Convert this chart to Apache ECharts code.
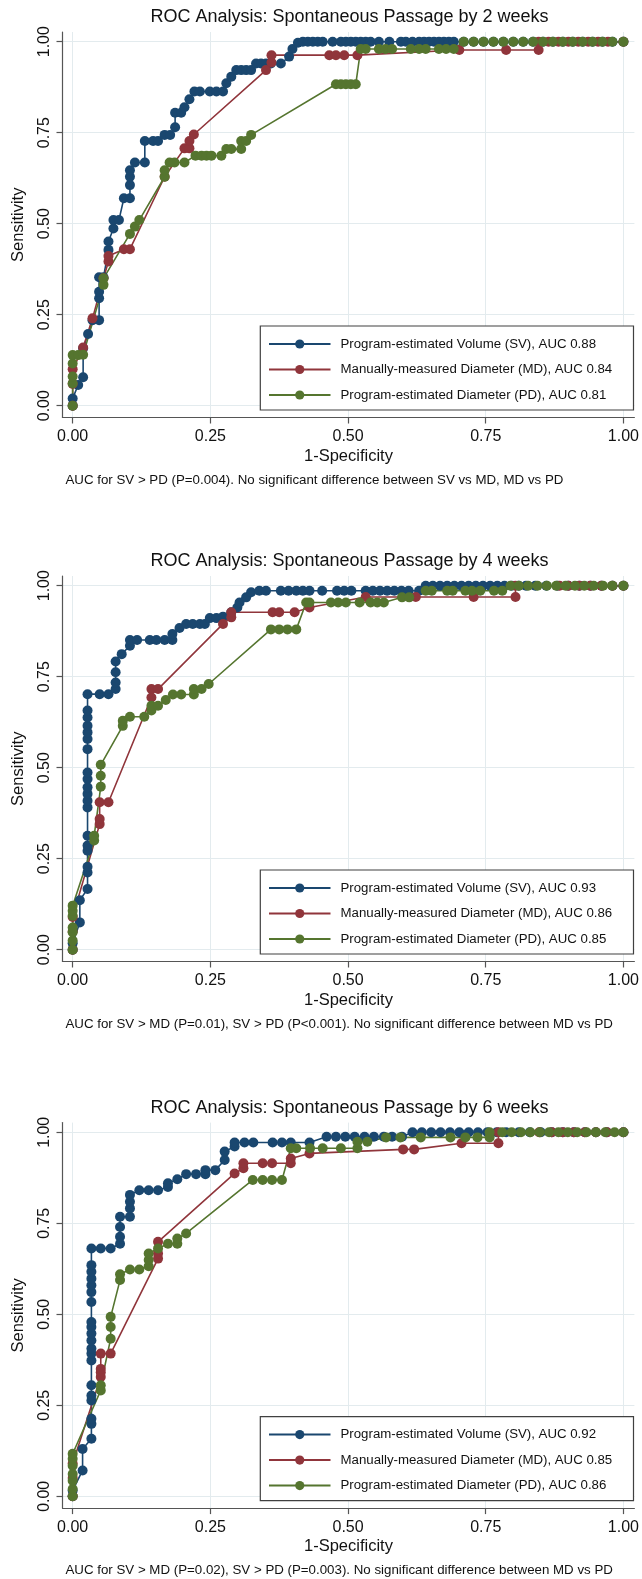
<!DOCTYPE html>
<html><head><meta charset="utf-8">
<script src="https://cdn.jsdelivr.net/npm/echarts@6/dist/echarts.min.js"></script>
<style>html,body{margin:0;padding:0;background:#fff}#c{width:642px;height:1579px}</style>
</head><body><div id="c"></div>
<script>
// ---------- text ----------
const titles = [
  'ROC Analysis: Spontaneous Passage by 2 weeks',
  'ROC Analysis: Spontaneous Passage by 4 weeks',
  'ROC Analysis: Spontaneous Passage by 6 weeks'
];
const notes = [
  'AUC for SV > PD (P=0.004). No significant difference between SV vs MD, MD vs PD',
  'AUC for SV > MD (P=0.01), SV > PD (P<0.001). No significant difference between MD vs PD',
  'AUC for SV > MD (P=0.02), SV > PD (P=0.003). No significant difference between MD vs PD'
];
const names2w = ['Program-estimated Volume (SV), AUC 0.88','Manually-measured Diameter (MD), AUC 0.84','Program-estimated Diameter (PD), AUC 0.81'];
const names4w = ['Program-estimated Volume (SV), AUC 0.93','Manually-measured Diameter (MD), AUC 0.86','Program-estimated Diameter (PD), AUC 0.85'];
const names6w = ['Program-estimated Volume (SV), AUC 0.92','Manually-measured Diameter (MD), AUC 0.85','Program-estimated Diameter (PD), AUC 0.86'];
const xAxisName = '1-Specificity';
const yAxisName = 'Sensitivity';
const tickValues = [0, 0.25, 0.5, 0.75, 1];
const tickLabels = ['0.00', '0.25', '0.50', '0.75', '1.00'];

// ---------- data: [1-specificity, sensitivity] ----------
const sv2 = [[0,0],[0,0.020],[0.010,0.057],[0.019,0.078],[0.019,0.158],[0.028,0.197],[0.036,0.235],[0.048,0.235],[0.048,0.295],[0.048,0.313],[0.048,0.353],[0.056,0.353],[0.065,0.428],[0.065,0.451],[0.074,0.487],[0.074,0.510],[0.084,0.510],[0.093,0.570],[0.104,0.570],[0.104,0.606],[0.104,0.629],[0.104,0.647],[0.113,0.668],[0.131,0.668],[0.131,0.727],[0.146,0.727],[0.155,0.727],[0.167,0.744],[0.177,0.744],[0.186,0.765],[0.186,0.805],[0.197,0.805],[0.203,0.820],[0.212,0.842],[0.221,0.863],[0.231,0.863],[0.249,0.863],[0.261,0.863],[0.273,0.863],[0.279,0.886],[0.288,0.904],[0.297,0.922],[0.306,0.922],[0.315,0.922],[0.324,0.922],[0.333,0.940],[0.342,0.940],[0.351,0.940],[0.360,0.940],[0.378,0.940],[0.393,0.959],[0.399,0.980],[0.409,0.997],[0.418,1],[0.427,1],[0.436,1],[0.445,1],[0.454,1],[0.472,1],[0.487,1],[0.496,1],[0.505,1],[0.514,1],[0.523,1],[0.532,1],[0.541,1],[0.556,1],[0.575,1],[0.596,1],[0.605,1],[0.617,1],[0.629,1],[0.638,1],[0.647,1],[0.656,1],[0.665,1],[0.674,1],[0.683,1],[0.692,1],[0.710,1],[0.728,1],[0.746,1],[0.764,1],[0.782,1],[0.800,1],[0.818,1],[0.836,1],[0.854,1],[0.872,1],[0.890,1],[0.908,1],[0.926,1],[0.944,1],[0.962,1],[0.980,1],[1,1]];
const md2 = [[0,0],[0,0.060],[0,0.100],[0.019,0.160],[0.036,0.240],[0.056,0.350],[0.065,0.396],[0.065,0.411],[0.093,0.430],[0.104,0.430],[0.167,0.629],[0.203,0.707],[0.212,0.707],[0.212,0.727],[0.220,0.745],[0.351,0.922],[0.361,0.943],[0.361,0.963],[0.466,0.963],[0.478,0.963],[0.493,0.963],[0.517,0.963],[0.702,0.977],[0.787,0.977],[0.846,0.977],[0.846,1],[0.864,1],[0.882,1],[0.900,1],[0.918,1],[0.936,1],[0.954,1],[0.972,1],[1,1]];
const pd2 = [[0,0],[0,0.061],[0,0.080],[0,0.116],[0,0.139],[0.010,0.139],[0.019,0.140],[0.056,0.332],[0.056,0.350],[0.104,0.472],[0.113,0.492],[0.121,0.510],[0.167,0.629],[0.167,0.647],[0.176,0.668],[0.185,0.668],[0.203,0.668],[0.223,0.687],[0.234,0.687],[0.243,0.687],[0.252,0.687],[0.270,0.687],[0.279,0.705],[0.288,0.705],[0.306,0.705],[0.306,0.727],[0.315,0.727],[0.324,0.744],[0.478,0.883],[0.487,0.883],[0.496,0.883],[0.505,0.883],[0.514,0.883],[0.523,0.980],[0.532,0.980],[0.556,0.980],[0.568,0.980],[0.580,0.980],[0.614,0.980],[0.629,0.980],[0.641,0.980],[0.665,0.980],[0.678,0.980],[0.692,0.980],[0.710,1],[0.728,1],[0.746,1],[0.764,1],[0.782,1],[0.800,1],[0.818,1],[0.836,1],[0.854,1],[0.872,1],[0.890,1],[0.908,1],[0.926,1],[0.944,1],[0.962,1],[0.980,1],[1,1]];

const sv4 = [[0,0],[0,0.018],[0.013,0.075],[0.013,0.136],[0.027,0.167],[0.027,0.212],[0.027,0.228],[0.027,0.272],[0.027,0.286],[0.027,0.313],[0.027,0.391],[0.027,0.409],[0.027,0.428],[0.027,0.446],[0.027,0.469],[0.027,0.487],[0.027,0.551],[0.027,0.579],[0.027,0.597],[0.027,0.615],[0.027,0.638],[0.027,0.657],[0.027,0.702],[0.049,0.702],[0.065,0.702],[0.078,0.716],[0.078,0.734],[0.078,0.762],[0.078,0.792],[0.089,0.812],[0.104,0.835],[0.104,0.851],[0.117,0.851],[0.140,0.851],[0.152,0.851],[0.167,0.851],[0.181,0.851],[0.181,0.867],[0.194,0.884],[0.206,0.895],[0.218,0.895],[0.231,0.895],[0.240,0.895],[0.249,0.911],[0.261,0.911],[0.273,0.915],[0.288,0.927],[0.299,0.940],[0.303,0.954],[0.315,0.968],[0.324,0.982],[0.339,0.986],[0.351,0.986],[0.378,0.986],[0.392,0.986],[0.406,0.986],[0.418,0.986],[0.430,0.986],[0.453,0.986],[0.480,0.986],[0.493,0.986],[0.506,0.986],[0.532,0.986],[0.545,0.986],[0.558,0.986],[0.571,0.986],[0.584,0.986],[0.597,0.986],[0.610,0.986],[0.629,0.986],[0.641,1],[0.654,1],[0.667,1],[0.680,1],[0.693,1],[0.706,1],[0.719,1],[0.732,1],[0.745,1],[0.758,1],[0.771,1],[0.784,1],[0.797,1],[0.810,1],[0.823,1],[0.840,1],[0.860,1],[0.880,1],[0.900,1],[0.920,1],[0.940,1],[0.960,1],[0.980,1],[1,1]];
const md4 = [[0,0],[0,0.050],[0,0.090],[0.049,0.345],[0.049,0.359],[0.049,0.405],[0.065,0.405],[0.143,0.693],[0.143,0.716],[0.155,0.716],[0.273,0.895],[0.288,0.913],[0.288,0.927],[0.363,0.927],[0.375,0.927],[0.403,0.927],[0.430,0.940],[0.532,0.969],[0.623,0.969],[0.728,0.969],[0.804,0.969],[0.804,1],[0.884,1],[0.900,1],[0.920,1],[0.940,1],[0.960,1],[0.980,1],[1,1]];
const pd4 = [[0,0],[0,0.025],[0,0.048],[0,0.061],[0,0.093],[0,0.107],[0,0.121],[0.039,0.300],[0.039,0.313],[0.051,0.448],[0.051,0.478],[0.051,0.508],[0.091,0.615],[0.091,0.629],[0.104,0.640],[0.130,0.640],[0.143,0.657],[0.143,0.670],[0.155,0.670],[0.169,0.686],[0.182,0.701],[0.197,0.701],[0.220,0.701],[0.220,0.716],[0.234,0.716],[0.247,0.730],[0.360,0.880],[0.375,0.880],[0.390,0.880],[0.406,0.880],[0.424,0.954],[0.430,0.954],[0.469,0.954],[0.482,0.954],[0.496,0.954],[0.521,0.954],[0.541,0.954],[0.553,0.954],[0.565,0.954],[0.598,0.968],[0.611,0.968],[0.641,0.986],[0.652,0.986],[0.680,0.986],[0.690,0.986],[0.713,0.986],[0.725,0.986],[0.740,0.986],[0.765,0.986],[0.780,0.986],[0.795,1],[0.810,1],[0.827,1],[0.844,1],[0.861,1],[0.878,1],[0.895,1],[0.912,1],[0.929,1],[0.946,1],[0.963,1],[0.980,1],[1,1]];

const sv6 = [[0,0],[0,0.016],[0.018,0.071],[0.018,0.130],[0.034,0.158],[0.034,0.199],[0.034,0.213],[0.034,0.263],[0.034,0.277],[0.034,0.305],[0.034,0.373],[0.034,0.392],[0.034,0.406],[0.034,0.428],[0.034,0.447],[0.034,0.465],[0.034,0.479],[0.034,0.534],[0.034,0.561],[0.034,0.580],[0.034,0.598],[0.034,0.617],[0.034,0.635],[0.034,0.681],[0.051,0.681],[0.069,0.681],[0.086,0.694],[0.086,0.713],[0.086,0.740],[0.086,0.768],[0.104,0.768],[0.104,0.791],[0.104,0.809],[0.104,0.828],[0.121,0.841],[0.138,0.841],[0.155,0.841],[0.173,0.850],[0.173,0.860],[0.190,0.871],[0.206,0.885],[0.224,0.885],[0.241,0.885],[0.241,0.896],[0.259,0.896],[0.276,0.924],[0.276,0.947],[0.294,0.961],[0.294,0.972],[0.312,0.972],[0.328,0.972],[0.363,0.972],[0.380,0.972],[0.396,0.972],[0.430,0.972],[0.461,0.988],[0.478,0.988],[0.495,0.988],[0.512,0.988],[0.530,0.988],[0.547,0.988],[0.565,0.988],[0.580,0.988],[0.598,0.988],[0.617,1],[0.634,1],[0.651,1],[0.668,1],[0.685,1],[0.702,1],[0.719,1],[0.736,1],[0.753,1],[0.770,1],[0.787,1],[0.810,1],[0.830,1],[0.850,1],[0.870,1],[0.890,1],[0.910,1],[0.930,1],[0.950,1],[0.970,1],[1,1]];
const md6 = [[0,0],[0,0.050],[0,0.090],[0.051,0.328],[0.051,0.341],[0.051,0.350],[0.051,0.392],[0.069,0.392],[0.155,0.653],[0.155,0.667],[0.155,0.699],[0.294,0.887],[0.310,0.901],[0.310,0.915],[0.345,0.915],[0.362,0.915],[0.396,0.915],[0.396,0.928],[0.430,0.942],[0.600,0.953],[0.620,0.953],[0.706,0.970],[0.773,0.970],[0.773,1],[0.847,1],[0.870,1],[0.890,1],[0.910,1],[0.930,1],[0.950,1],[0.970,1],[1,1]];
const pd6 = [[0,0],[0,0.020],[0,0.043],[0,0.061],[0,0.084],[0,0.103],[0,0.117],[0.051,0.291],[0.051,0.305],[0.069,0.433],[0.069,0.465],[0.069,0.493],[0.086,0.594],[0.086,0.610],[0.104,0.623],[0.121,0.623],[0.138,0.632],[0.138,0.649],[0.138,0.667],[0.155,0.681],[0.173,0.694],[0.190,0.694],[0.190,0.708],[0.206,0.722],[0.327,0.869],[0.345,0.869],[0.362,0.869],[0.380,0.869],[0.396,0.956],[0.406,0.956],[0.431,0.956],[0.454,0.956],[0.487,0.956],[0.517,0.956],[0.517,0.974],[0.535,0.974],[0.569,0.986],[0.595,0.986],[0.632,0.986],[0.686,0.986],[0.713,0.986],[0.735,0.986],[0.757,0.986],[0.757,1],[0.780,1],[0.797,1],[0.814,1],[0.831,1],[0.848,1],[0.865,1],[0.882,1],[0.899,1],[0.916,1],[0.933,1],[0.950,1],[0.967,1],[0.984,1],[1,1]];

// ---------- assembly ----------
const panels = [[sv2, md2, pd2], [sv4, md4, pd4], [sv6, md6, pd6]];
const panelNames = [names2w, names4w, names6w];
const colors = ['#1a476f', '#90353b', '#55752f'];
const FONT = '"Liberation Sans", Arial, Helvetica, sans-serif';
const topY = [41.7, 585.7, 1132.3];   // pixel row of sensitivity = 1
const PLOT_H = 364, PLOT_W = 552.3, X0 = 72.7;
const GL = 62.5, GW = 573.5;
const padTop = 9.7, padBot = 11.8;
const xMin = -(X0 - GL) / PLOT_W, xMax = 1 + (GL + GW - X0 - PLOT_W) / PLOT_W;
const yMin = -padBot / PLOT_H, yMax = 1 + padTop / PLOT_H;
const axisCol = '#555';
const fmt = v => { const i = tickValues.indexOf(+v.toFixed(4)); return i >= 0 ? tickLabels[i] : ''; };

const grid = [], xAxis = [], yAxis = [], legend = [], series = [], graphic = [];
panels.forEach((p, i) => {
  grid.push({ left: GL, top: topY[i] - padTop, width: GW, height: PLOT_H + padTop + padBot, containLabel: false });
  xAxis.push({
    type: 'value', gridIndex: i, min: xMin, max: xMax,
    axisLine: { show: true, onZero: false, lineStyle: { color: axisCol, width: 1.2 } },
    axisTick: { show: true, customValues: tickValues, length: 6, lineStyle: { color: axisCol, width: 1.2 } },
    axisLabel: { customValues: tickValues, formatter: fmt, fontSize: 16, color: '#111', margin: 11, fontFamily: FONT },
    splitLine: { show: true, lineStyle: { color: '#e3ebee', width: 1 } },
    name: xAxisName, nameLocation: 'middle', nameGap: 30,
    nameTextStyle: { fontSize: 16.5, color: '#111', fontFamily: FONT }
  });
  yAxis.push({
    type: 'value', gridIndex: i, min: yMin, max: yMax,
    axisLine: { show: true, onZero: false, lineStyle: { color: axisCol, width: 1.2 } },
    axisTick: { show: true, customValues: tickValues, length: 6, lineStyle: { color: axisCol, width: 1.2 } },
    axisLabel: { customValues: tickValues, formatter: fmt, fontSize: 16, color: '#111', margin: 9.5, rotate: 90, fontFamily: FONT },
    splitLine: { show: true, lineStyle: { color: '#e3ebee', width: 1 } },
    name: yAxisName, nameLocation: 'middle', nameGap: 36,
    nameTextStyle: { fontSize: 16.5, color: '#111', fontFamily: FONT }
  });
  legend.push({
    data: panelNames[i], orient: 'vertical', left: 260.3, top: topY[i] + 284.3,
    padding: [11, 6, 8, 7.7], itemGap: 11.5, itemWidth: 61.5, itemHeight: 11.5,
    borderColor: '#404040', borderWidth: 1.2, backgroundColor: '#fff', borderRadius: 0,
    selectedMode: false,
    textStyle: { fontSize: 13.25, color: '#111', fontFamily: FONT, lineHeight: 14, width: 287, padding: [0, 0, 0, 5] }
  });
  p.forEach((d, j) => {
    series.push({
      type: 'line', name: panelNames[i][j], xAxisIndex: i, yAxisIndex: i, data: d,
      symbol: 'circle', symbolSize: 10, showSymbol: true, showAllSymbol: true,
      lineStyle: { color: colors[j], width: 1.6 }, itemStyle: { color: colors[j] },
      emphasis: { disabled: true }, animation: false, clip: false
    });
  });
  graphic.push({ type: 'text', x: 349.5, y: topY[i] - 24.5, silent: true,
    style: { text: titles[i], fontSize: 18, fontFamily: FONT, fill: '#111', align: 'center', verticalAlign: 'middle' } });
  graphic.push({ type: 'text', x: 65.5, y: topY[i] + 438.3, silent: true,
    style: { text: notes[i], fontSize: 13.3, fontFamily: FONT, fill: '#111', align: 'left', verticalAlign: 'middle' } });
});

const chart = echarts.init(document.getElementById('c'), null, { renderer: 'canvas' });
chart.setOption({ backgroundColor: '#fff', animation: false, grid, xAxis, yAxis, legend, series, graphic, tooltip: { show: false } });
</script></body></html>
